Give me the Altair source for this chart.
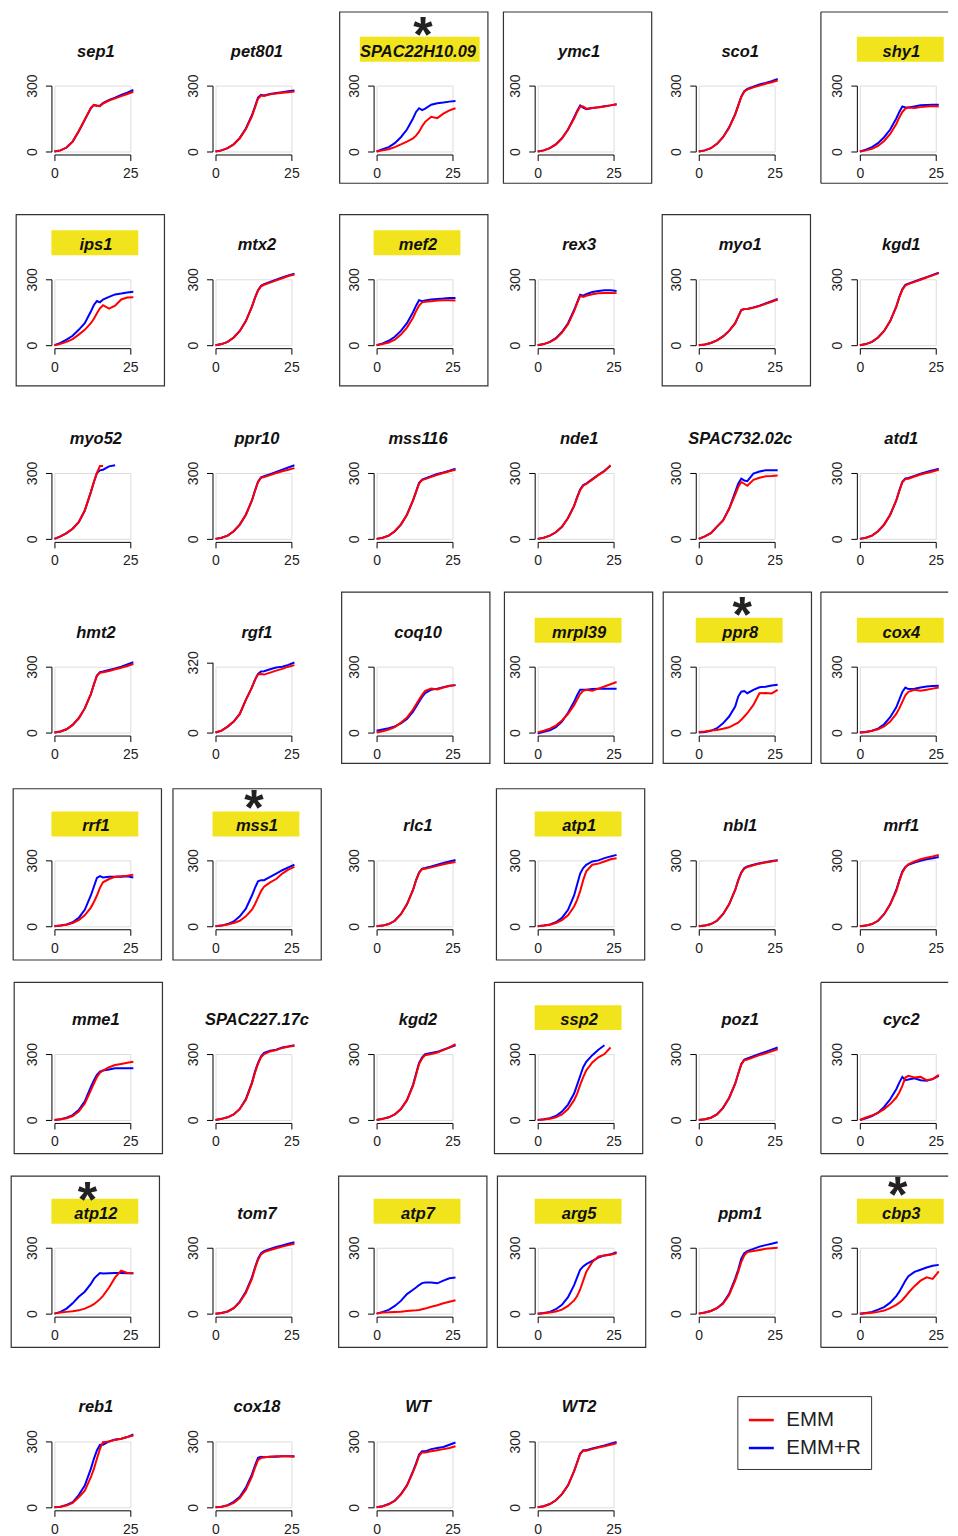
import altair as alt
import pandas as pd

# ---------------- data ----------------
T = [0, 2, 4, 6, 8, 10, 12, 13, 14, 15, 16, 18, 20, 22, 24, 26]

# (EMM = red, EMM+R = blue)
sep1_emm = [0, 5, 18, 45, 93, 146, 199, 212, 208, 206, 218, 232, 242, 252, 262, 272]
sep1_emmr = [0, 5, 18, 45, 91, 144, 197, 212, 208, 208, 220, 235, 245, 258, 268, 280]
pet801_emm = [0, 5, 15, 32, 60, 102, 160, 200, 240, 255, 253, 260, 264, 267, 270, 273]
pet801_emmr = [0, 5, 15, 33, 62, 105, 165, 205, 245, 258, 255, 262, 266, 270, 274, 278]
SPAC22H10_09_emm = [0, 5, 10, 20, 32, 45, 60, 72, 90, 115, 135, 158, 152, 172, 187, 197]
SPAC22H10_09_emmr = [0, 10, 20, 38, 65, 100, 150, 180, 197, 188, 195, 213, 220, 223, 227, 230]
ymc1_emm = [0, 5, 15, 32, 60, 100, 150, 180, 205, 205, 195, 198, 200, 205, 210, 215]
ymc1_emmr = [0, 5, 15, 32, 60, 100, 155, 185, 210, 200, 192, 198, 202, 206, 210, 215]
sco1_emm = [0, 5, 15, 35, 65, 108, 168, 208, 248, 272, 282, 292, 300, 308, 315, 323]
sco1_emmr = [0, 5, 15, 35, 65, 110, 170, 210, 250, 275, 285, 295, 305, 312, 320, 330]
shy1_emm = [0, 5, 12, 25, 48, 80, 125, 155, 180, 195, 200, 198, 202, 205, 207, 205]
shy1_emmr = [0, 8, 20, 38, 65, 100, 150, 180, 205, 200, 200, 205, 210, 212, 213, 213]

ips1_emm = [0, 6, 15, 28, 48, 70, 100, 120, 145, 168, 182, 166, 180, 208, 217, 218]
ips1_emmr = [0, 10, 25, 43, 70, 100, 153, 183, 201, 195, 208, 220, 231, 235, 240, 243]
mtx2_emm = [0, 5, 15, 35, 65, 110, 175, 215, 248, 268, 275, 285, 295, 305, 315, 322]
mtx2_emmr = [0, 5, 15, 35, 65, 110, 175, 215, 250, 270, 278, 288, 298, 308, 318, 325]
mef2_emm = [0, 5, 12, 25, 48, 80, 125, 155, 180, 195, 198, 200, 203, 205, 205, 203]
mef2_emmr = [0, 8, 20, 38, 65, 100, 150, 180, 205, 200, 203, 208, 210, 212, 215, 215]
rex3_emm = [0, 5, 14, 30, 57, 95, 155, 190, 225, 220, 225, 232, 236, 238, 238, 237]
rex3_emmr = [0, 5, 15, 32, 60, 100, 160, 195, 230, 225, 232, 242, 247, 250, 250, 247]
myo1_emm = [0, 3, 10, 22, 40, 65, 100, 130, 160, 165, 165, 170, 178, 188, 198, 208]
myo1_emmr = [0, 3, 10, 22, 40, 65, 100, 130, 160, 165, 165, 172, 180, 190, 200, 210]
kgd1_emm = [0, 5, 15, 35, 65, 110, 175, 218, 252, 272, 278, 288, 298, 308, 318, 328]
kgd1_emmr = [0, 5, 15, 35, 65, 110, 175, 220, 255, 275, 280, 290, 300, 310, 320, 330]

myo52_emm = [0, 11, 26, 46, 76, 129, 213, 259, 300, 332, 332, None, None, None, None, None]
myo52_emmr = [0, 11, 26, 46, 76, 129, 213, 259, 300, 312, 315, 330, 335, None, None, None]
ppr10_emm = [0, 5, 15, 35, 65, 110, 175, 218, 258, 278, 282, 290, 300, 308, 315, 322]
ppr10_emmr = [0, 5, 15, 35, 65, 110, 175, 220, 260, 280, 285, 295, 305, 315, 325, 335]
mss116_emm = [0, 5, 15, 35, 65, 110, 175, 213, 252, 268, 272, 282, 292, 300, 308, 315]
mss116_emmr = [0, 5, 15, 35, 65, 110, 175, 215, 255, 270, 275, 285, 295, 302, 310, 320]
nde1_emm = [0, 5, 15, 30, 55, 95, 150, 188, 222, 242, 250, 270, 290, 308, 335, None]
nde1_emmr = [0, 5, 15, 30, 55, 95, 150, 190, 225, 245, 252, 272, 292, 310, 333, None]
SPAC732_02c_emm = [0, 11, 26, 56, 84, 137, 202, 236, 259, 251, 242, 269, 278, 285, 286, 289]
SPAC732_02c_emmr = [0, 11, 26, 56, 84, 137, 213, 251, 274, 266, 263, 297, 307, 312, 312, 312]
atd1_emm = [0, 5, 15, 35, 65, 110, 175, 218, 258, 272, 274, 284, 293, 300, 307, 315]
atd1_emmr = [0, 5, 15, 35, 65, 110, 175, 220, 260, 275, 277, 287, 297, 305, 312, 320]

hmt2_emm = [0, 5, 15, 35, 65, 110, 175, 218, 258, 272, 275, 280, 288, 295, 303, 312]
hmt2_emmr = [0, 5, 15, 35, 65, 110, 175, 220, 260, 275, 278, 285, 292, 300, 310, 320]
rgf1_emm = [0, 9, 27, 50, 85, 149, 206, 240, 265, 267, 264, 273, 282, 290, 300, 307]
rgf1_emmr = [0, 9, 27, 50, 85, 149, 206, 240, 267, 278, 279, 288, 296, 300, 308, 319]
coq10_emm = [0, 6, 14, 25, 45, 68, 105, 128, 150, 172, 190, 200, 196, 205, 212, 216]
coq10_emmr = [8, 14, 20, 28, 42, 62, 95, 118, 140, 162, 180, 195, 200, 207, 213, 216]
mrpl39_emm = [0, 8, 18, 32, 55, 85, 125, 150, 175, 190, 195, 190, 200, 210, 220, 230]
mrpl39_emmr = [-5, 3, 10, 25, 50, 90, 140, 170, 195, 195, 195, 198, 200, 200, 200, 200]
ppr8_emm = [3, 5, 9, 12, 17, 24, 38, 45, 58, 73, 88, 126, 179, 180, 178, 194]
ppr8_emmr = [0, 3, 8, 20, 42, 73, 118, 164, 186, 189, 179, 194, 206, 209, 214, 218]
cox4_emm = [0, 3, 8, 15, 28, 50, 85, 110, 140, 170, 185, 195, 190, 195, 200, 205]
cox4_emmr = [0, 3, 8, 18, 38, 70, 115, 150, 185, 205, 198, 200, 205, 210, 212, 213]

rrf1_emm = [0, 3, 7, 15, 28, 50, 85, 110, 140, 175, 200, 215, 225, 228, 230, 235]
rrf1_emmr = [0, 3, 8, 18, 38, 75, 140, 180, 220, 228, 222, 225, 225, 225, 228, 222]
mss1_emm = [0, 3, 8, 15, 25, 45, 75, 100, 130, 160, 180, 200, 215, 240, 258, 270]
mss1_emmr = [0, 3, 10, 22, 45, 80, 140, 175, 205, 210, 210, 225, 240, 255, 268, 280]
rlc1_emm = [0, 3, 10, 25, 55, 100, 165, 208, 243, 260, 262, 268, 275, 282, 288, 293]
rlc1_emmr = [0, 3, 10, 25, 55, 100, 165, 210, 245, 262, 265, 272, 280, 288, 295, 302]
atp1_emm = [0, 3, 7, 15, 28, 50, 90, 120, 160, 210, 250, 280, 285, 295, 305, 310]
atp1_emmr = [0, 3, 8, 18, 38, 75, 140, 190, 240, 265, 280, 295, 300, 310, 318, 325]
nbl1_emm = [0, 3, 10, 25, 55, 100, 165, 208, 243, 262, 270, 278, 285, 290, 295, 300]
nbl1_emmr = [0, 3, 10, 25, 55, 100, 165, 210, 245, 265, 272, 280, 287, 292, 297, 300]
mrf1_emm = [0, 3, 10, 25, 55, 100, 160, 205, 245, 268, 282, 295, 305, 312, 318, 325]
mrf1_emmr = [0, 3, 10, 25, 55, 100, 165, 210, 250, 270, 280, 290, 298, 305, 310, 315]

mme1_emm = [0, 3, 8, 18, 38, 75, 135, 165, 195, 215, 225, 240, 250, 255, 260, 265]
mme1_emmr = [0, 3, 10, 22, 45, 85, 150, 180, 205, 220, 225, 230, 235, 235, 235, 235]
SPAC227_17c_emm = [0, 5, 12, 25, 50, 92, 165, 215, 255, 285, 300, 312, 318, 328, 333, 338]
SPAC227_17c_emmr = [0, 5, 12, 25, 50, 95, 170, 220, 260, 290, 305, 315, 320, 330, 335, 340]
kgd2_emm = [0, 5, 12, 25, 50, 90, 155, 205, 255, 280, 295, 300, 307, 318, 330, 345]
kgd2_emmr = [0, 5, 12, 25, 50, 90, 160, 210, 260, 285, 300, 305, 310, 320, 330, 340]
ssp2_emm = [0, 2, 5, 12, 25, 50, 90, 120, 160, 195, 225, 262, 285, 300, 330, None]
ssp2_emmr = [0, 3, 8, 18, 38, 70, 120, 160, 200, 240, 265, 295, 320, 340, None, None]
poz1_emm = [0, 3, 10, 25, 55, 100, 165, 210, 252, 272, 275, 285, 295, 303, 312, 322]
poz1_emmr = [0, 3, 10, 25, 55, 100, 165, 210, 255, 275, 280, 290, 300, 310, 320, 330]
cyc2_emm = [0, 11, 20, 32, 49, 72, 102, 125, 155, 193, 201, 193, 196, 181, 186, 205]
cyc2_emmr = [0, 8, 18, 33, 59, 94, 140, 170, 196, 181, 184, 190, 181, 178, 186, 201]

atp12_emm = [0, 5, 8, 11, 15, 23, 35, 43, 54, 66, 81, 119, 165, 196, 185, 184]
atp12_emmr = [0, 8, 23, 47, 77, 100, 135, 158, 173, 185, 183, 184, 185, 185, 184, 184]
tom7_emm = [0, 3, 10, 25, 52, 95, 158, 205, 245, 270, 280, 290, 298, 305, 312, 318]
tom7_emmr = [0, 3, 10, 25, 55, 100, 165, 210, 250, 275, 285, 295, 303, 310, 318, 325]
atp7_emm = [0, 5, 6, 8, 9, 12, 14, 15, 17, 20, 23, 31, 38, 47, 54, 61]
atp7_emmr = [0, 8, 17, 35, 58, 89, 109, 119, 130, 139, 142, 142, 138, 150, 161, 165]
arg5_emm = [0, 2, 5, 10, 18, 35, 60, 80, 110, 150, 190, 235, 260, 265, 268, 275]
arg5_emmr = [0, 3, 8, 20, 40, 75, 130, 165, 200, 215, 225, 240, 255, 265, 270, 280]
ppm1_emm = [0, 5, 12, 25, 45, 85, 150, 190, 235, 265, 280, 285, 290, 295, 298, 300]
ppm1_emmr = [0, 5, 12, 25, 48, 90, 160, 200, 250, 275, 285, 295, 305, 312, 318, 325]
cbp3_emm = [0, 2, 4, 8, 14, 25, 40, 50, 62, 78, 95, 125, 150, 165, 158, 192]
cbp3_emmr = [0, 3, 8, 18, 30, 50, 80, 100, 125, 150, 170, 190, 200, 210, 218, 222]

reb1_emm = [0, 3, 8, 20, 46, 76, 137, 175, 221, 266, 297, 300, 307, 312, 320, 327]
reb1_emmr = [0, 3, 11, 23, 56, 99, 175, 221, 259, 285, 285, 300, 309, 312, 320, 332]
cox18_emm = [0, 3, 8, 20, 42, 80, 140, 180, 215, 225, 228, 230, 232, 232, 232, 230]
cox18_emmr = [0, 3, 10, 25, 48, 90, 150, 190, 225, 230, 228, 230, 230, 232, 232, 232]
WT_emm = [0, 5, 14, 30, 58, 98, 160, 195, 235, 250, 250, 255, 260, 265, 270, 278]
WT_emmr = [0, 5, 15, 30, 60, 100, 165, 200, 240, 255, 255, 265, 270, 275, 285, 295]
WT2_emm = [0, 5, 15, 32, 60, 100, 165, 203, 243, 258, 258, 265, 272, 278, 285, 292]
WT2_emmr = [0, 5, 15, 32, 60, 100, 165, 205, 245, 260, 260, 268, 275, 282, 290, 298]

PANELS = [
    ("sep1", sep1_emm, sep1_emmr), ("pet801", pet801_emm, pet801_emmr),
    ("SPAC22H10.09", SPAC22H10_09_emm, SPAC22H10_09_emmr), ("ymc1", ymc1_emm, ymc1_emmr),
    ("sco1", sco1_emm, sco1_emmr), ("shy1", shy1_emm, shy1_emmr),
    ("ips1", ips1_emm, ips1_emmr), ("mtx2", mtx2_emm, mtx2_emmr),
    ("mef2", mef2_emm, mef2_emmr), ("rex3", rex3_emm, rex3_emmr),
    ("myo1", myo1_emm, myo1_emmr), ("kgd1", kgd1_emm, kgd1_emmr),
    ("myo52", myo52_emm, myo52_emmr), ("ppr10", ppr10_emm, ppr10_emmr),
    ("mss116", mss116_emm, mss116_emmr), ("nde1", nde1_emm, nde1_emmr),
    ("SPAC732.02c", SPAC732_02c_emm, SPAC732_02c_emmr), ("atd1", atd1_emm, atd1_emmr),
    ("hmt2", hmt2_emm, hmt2_emmr), ("rgf1", rgf1_emm, rgf1_emmr),
    ("coq10", coq10_emm, coq10_emmr), ("mrpl39", mrpl39_emm, mrpl39_emmr),
    ("ppr8", ppr8_emm, ppr8_emmr), ("cox4", cox4_emm, cox4_emmr),
    ("rrf1", rrf1_emm, rrf1_emmr), ("mss1", mss1_emm, mss1_emmr),
    ("rlc1", rlc1_emm, rlc1_emmr), ("atp1", atp1_emm, atp1_emmr),
    ("nbl1", nbl1_emm, nbl1_emmr), ("mrf1", mrf1_emm, mrf1_emmr),
    ("mme1", mme1_emm, mme1_emmr), ("SPAC227.17c", SPAC227_17c_emm, SPAC227_17c_emmr),
    ("kgd2", kgd2_emm, kgd2_emmr), ("ssp2", ssp2_emm, ssp2_emmr),
    ("poz1", poz1_emm, poz1_emmr), ("cyc2", cyc2_emm, cyc2_emmr),
    ("atp12", atp12_emm, atp12_emmr), ("tom7", tom7_emm, tom7_emmr),
    ("atp7", atp7_emm, atp7_emmr), ("arg5", arg5_emm, arg5_emmr),
    ("ppm1", ppm1_emm, ppm1_emmr), ("cbp3", cbp3_emm, cbp3_emmr),
    ("reb1", reb1_emm, reb1_emmr), ("cox18", cox18_emm, cox18_emmr),
    ("WT", WT_emm, WT_emmr), ("WT2", WT2_emm, WT2_emmr),
]

X_TICKS = [0, 25]
Y_TOP = {"rgf1": 320}          # top y tick per panel (default 300)
HIGHLIGHT = {"SPAC22H10.09", "shy1", "ips1", "mef2", "mrpl39", "ppr8", "cox4",
             "rrf1", "mss1", "atp1", "ssp2", "atp12", "atp7", "arg5", "cbp3"}
STAR = {"SPAC22H10.09": (46.5, -57.4), "ppr8": (43.4, -58.6), "mss1": (38.4, -58.7),
        "atp12": (33.2, -54.7), "cbp3": (38.0, -59.7)}
SERIES = ["EMM", "EMM+R"]
COLORS = ["#FF0000", "#0000FF"]

# ---------------- layout / style ----------------
W, H = 76, 66
PX_PER_UNIT = H / 300.0
FONT = "Liberation Sans"
ROW_BOX_TOP = {0: -73.7, 1: -64.7, 3: -74.7, 4: -71.7, 5: -71.7, 6: -71.7}
BOX_LEFT = {"SPAC22H10.09": -37, "ymc1": -34.3, "shy1": -39, "ips1": -38.3, "mef2": -37,
            "myo1": -36.6, "coq10": -35, "mrpl39": -33.3, "ppr8": -35.6, "cox4": -39,
            "rrf1": -41.3, "mss1": -42.6, "atp1": -41.3, "mme1": -40.3, "ssp2": -43.3,
            "cyc2": -39, "atp12": -43.3, "atp7": -38, "arg5": -40.3, "cbp3": -39}
BOX_W, BOX_H = 148.5, 171.5
RIGHT_LIMIT = 88.5            # last column: frame runs off the page edge
HL_CENTER = {"SPAC22H10.09": 43.2}
HL_WIDTH = {"SPAC22H10.09": 120}
BOX_STYLE = dict(stroke="#333", strokeWidth=1.2)
STAR_SIZE = 50

one = pd.DataFrame({"k": [0]})

legend = alt.Legend(
    orient="none", legendX=684, legendY=1312.6, direction="vertical",
    symbolType="stroke", symbolSize=625, symbolStrokeWidth=2.5,
    labelFontSize=20.5, labelFont=FONT, labelColor="#222", labelOffset=11,
    padding=10, rowPadding=3, strokeColor="#333", fillColor="white",
)
color = alt.Color("s:N", title=None, legend=legend,
                  scale=alt.Scale(domain=SERIES, range=COLORS))


def frame_layers(left, top, last_col):
    bottom = top + BOX_H
    if not last_col:
        return [alt.Chart(one).mark_rect(fillOpacity=0, **BOX_STYLE)
                .encode(x=alt.value(left), x2=alt.value(left + BOX_W),
                        y=alt.value(top), y2=alt.value(bottom))]
    return [
        alt.Chart(one).mark_rule(**BOX_STYLE)
        .encode(x=alt.value(left), x2=alt.value(RIGHT_LIMIT), y=alt.value(top)),
        alt.Chart(one).mark_rule(**BOX_STYLE)
        .encode(x=alt.value(left), x2=alt.value(RIGHT_LIMIT), y=alt.value(bottom)),
        alt.Chart(one).mark_rule(**BOX_STYLE)
        .encode(x=alt.value(left), y=alt.value(top), y2=alt.value(bottom)),
    ]


def make_panel(idx, name, red, blue):
    row, col = idx // 6, idx % 6
    rows = []
    for s, vals in (("EMM+R", blue), ("EMM", red)):
        for t, v in zip(T, vals):
            if v is not None:
                rows.append({"t": t, "v": v, "s": s})
    df = pd.DataFrame(rows)
    ytop = Y_TOP.get(name, 300)
    xs = alt.Scale(domain=[0, 25], nice=False, zero=False)
    ys = alt.Scale(domain=[0, ytop], nice=False, zero=False,
                   range=[H, H - ytop * PX_PER_UNIT])
    common = dict(domainColor="black", domainWidth=1, tickColor="black", tickWidth=1,
                  tickSize=6, labelFontSize=14, labelFont=FONT, labelColor="#222",
                  offset=3, grid=False, labelFlush=False, labelOverlap=False)
    xaxis = alt.Axis(values=X_TICKS, labelPadding=6, **common)
    yaxis = alt.Axis(values=[0, ytop], labelAngle=270, labelAlign="center",
                     labelBaseline="bottom", labelPadding=6, **common)
    base = alt.Chart(df)
    layers = []
    for s in ("EMM+R", "EMM"):
        layers.append(
            base.transform_filter(alt.datum.s == s)
            .mark_line(strokeWidth=2, clip=False)
            .encode(x=alt.X("t:Q", scale=xs, axis=xaxis, title=None),
                    y=alt.Y("v:Q", scale=ys, axis=yaxis, title=None),
                    color=color)
        )
    if name in BOX_LEFT:
        layers += frame_layers(BOX_LEFT[name], ROW_BOX_TOP[row], col == 5)
    if name in HIGHLIGHT:
        c = HL_CENTER.get(name, 40.5)
        w = HL_WIDTH.get(name, 87)
        layers.append(
            alt.Chart(one).mark_rect(fill="#F2E41C")
            .encode(x=alt.value(c - w / 2), x2=alt.value(c + w / 2),
                    y=alt.value(-49), y2=alt.value(-24))
        )
    if name in STAR:
        sx, sy = STAR[name]
        layers.append(
            alt.Chart(one).mark_text(text="*", font=FONT, fontSize=STAR_SIZE,
                                     fontWeight="bold", color="#222", align="center",
                                     baseline="alphabetic")
            .encode(x=alt.value(sx), y=alt.value(sy + 0.47 * STAR_SIZE))
        )
    layers.append(
        alt.Chart(one).mark_text(text=name, font=FONT, fontSize=16.5, fontWeight="bold",
                                 fontStyle="italic", color="#111", align="center",
                                 baseline="alphabetic")
        .encode(x=alt.value(41.5), y=alt.value(-29))
    )
    return alt.layer(*layers).properties(width=W, height=H)


panels = [make_panel(i, n, r, b) for i, (n, r, b) in enumerate(PANELS)]

chart = (
    alt.concat(*panels, columns=6, spacing={"row": 128, "column": 85.34}, bounds="flush")
    .properties(padding={"left": 1.5, "top": 1.5, "right": 0, "bottom": 0})
    .configure_view(strokeWidth=0)
    .configure(font=FONT)
)

chart.save("out.html", embed_options={"renderer": "svg", "actions": False})
